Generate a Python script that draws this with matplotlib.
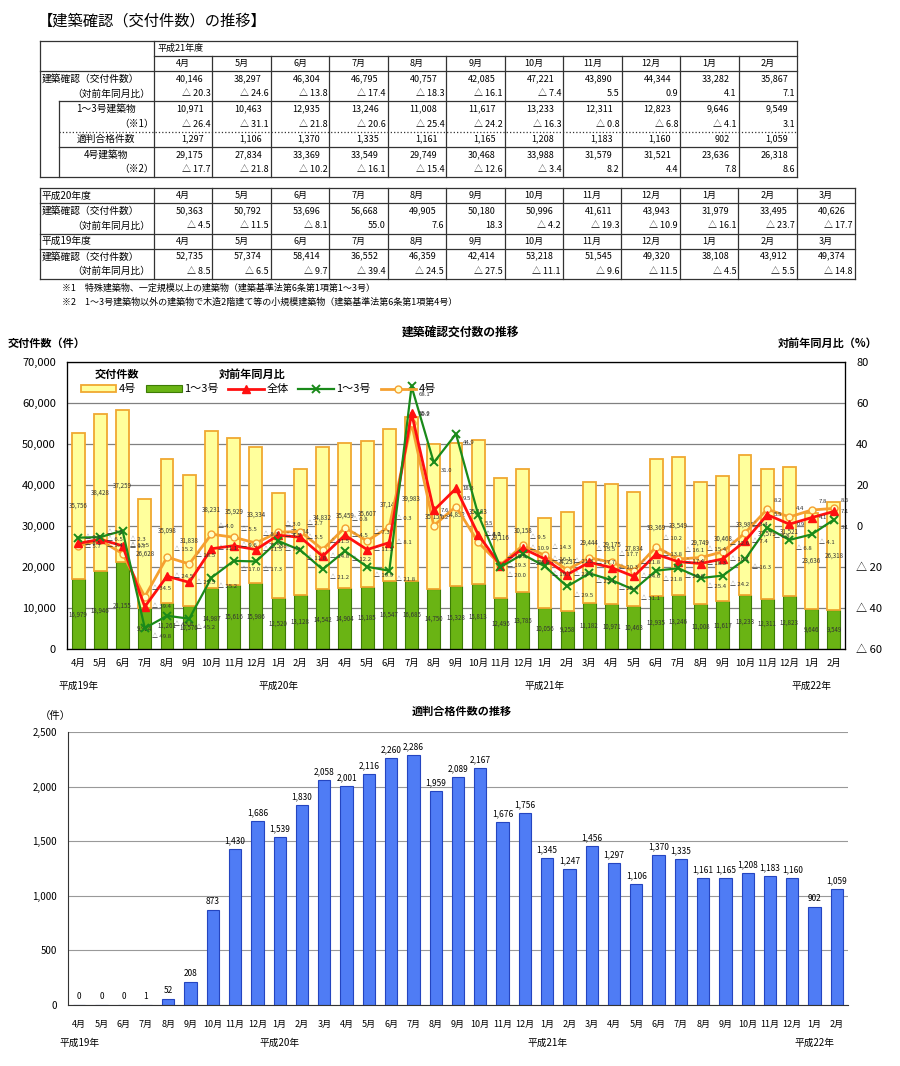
import numpy as np
import matplotlib.pyplot as plt
from matplotlib.patches import Patch
from matplotlib.lines import Line2D
from matplotlib.transforms import blended_transform_factory

plt.rcParams['font.family'] = ['Noto Sans CJK JP', 'DejaVu Sans']

# ---- データ ----
months_fy = ['4月', '5月', '6月', '7月', '8月', '9月', '10月', '11月', '12月', '1月', '2月', '3月']

# 平成21年度 (4月～2月)
total21 = [40146, 38297, 46304, 46795, 40757, 42085, 47221, 43890, 44344, 33282, 35867]
total21_r = [-20.3, -24.6, -13.8, -17.4, -18.3, -16.1, -7.4, 5.5, 0.9, 4.1, 7.1]
k13_21 = [10971, 10463, 12935, 13246, 11008, 11617, 13233, 12311, 12823, 9646, 9549]
k13_21_r = [-26.4, -31.1, -21.8, -20.6, -25.4, -24.2, -16.3, -0.8, -6.8, -4.1, 3.1]
tekihan21 = [1297, 1106, 1370, 1335, 1161, 1165, 1208, 1183, 1160, 902, 1059]
k4_21 = [29175, 27834, 33369, 33549, 29749, 30468, 33988, 31579, 31521, 23636, 26318]
k4_21_r = [-17.7, -21.8, -10.2, -16.1, -15.4, -12.6, -3.4, 8.2, 4.4, 7.8, 8.6]

# 平成20年度
total20 = [50363, 50792, 53696, 56668, 49905, 50180, 50996, 41611, 43943, 31979, 33495, 40626]
total20_r = [-4.5, -11.5, -8.1, 55.0, 7.6, 18.3, -4.2, -19.3, -10.9, -16.1, -23.7, -17.7]
k13_20 = [14904, 15185, 16547, 16685, 14750, 15328, 15813, 12495, 13785, 10056, 9258, 11182]
k13_20_r = [-12.2, -19.9, -21.8, 68.1, 31.0, 44.9, 5.5, -20.0, -13.8, -19.7, -29.5, -23.1]
k4_20 = [35459, 35607, 37149, 39983, 35155, 34852, 35183, 29116, 30158, 21923, 24237, 29444]
k4_20_r = [-0.8, -7.3, -0.3, 50.2, 0.2, 9.5, -8.0, -19.0, -9.5, -14.3, -21.3, -15.5]
tekihan20 = [2001, 2116, 2260, 2286, 1959, 2089, 2167, 1676, 1756, 1345, 1247, 1456]

# 平成19年度
total19 = [52735, 57374, 58414, 36552, 46359, 42414, 53218, 51545, 49320, 38108, 43912, 49374]
total19_r = [-8.5, -6.5, -9.7, -39.4, -24.5, -27.5, -11.1, -9.6, -11.5, -4.5, -5.5, -14.8]
k13_19 = [16979, 18946, 21155, 9924, 11261, 10576, 14987, 15616, 15986, 12520, 13128, 14542]
k13_19_r = [-5.7, -5.4, -2.3, -49.8, -43.8, -45.2, -25.2, -17.0, -17.3, -7.3, -11.8, -21.2]
k4_19 = [35756, 38428, 37259, 26628, 35098, 31838, 38231, 35929, 33334, 25588, 30784, 34832]
k4_19_r = [-9.8, -7.0, -13.5, -34.5, -15.2, -18.5, -4.0, -5.5, -8.3, -3.0, -2.7, -11.5]
tekihan19 = [0, 0, 0, 1, 52, 208, 873, 1430, 1686, 1539, 1830, 2058]

year_labels = ['平成19年', '平成20年', '平成21年', '平成22年']
year_idx = [0, 9, 21, 33]

notes = ['※1　特殊建築物、一定規模以上の建築物（建築基準法第6条第1項第1～3号）',
         '※2　1～3号建築物以外の建築物で木造2階建て等の小規模建築物（建築基準法第6条第1項第4号）']


def pct(v):
    return f'△ {abs(v):.1f}' if v < 0 else f'{v:.1f}'


def num(v):
    return f'{v:,}'


W, H = 900, 1066
fig = plt.figure(figsize=(9, 10.66), dpi=100)

# 表と見出し用の背景 (ピクセル座標)
bg = fig.add_axes([0, 0, 1, 1])
bg.set_xlim(0, W)
bg.set_ylim(H, 0)
bg.axis('off')


def line(x1, x2, y1, y2, ls='-'):
    bg.plot([x1, x2], [y1, y2], color='#333333', lw=0.9, ls=ls)


fs_t = 6.5
bg.text(38, 21, '【建築確認（交付件数）の推移】', fontsize=11, va='center', ha='left')

# ---- 表1 平成21年度 ----
L, XL, R1 = 40, 154, 797
cw1 = (R1 - XL) / len(total21)
ys = np.linspace(41, 177, 10)
for yy in (ys[0], ys[2], ys[9]):
    line(L, R1, yy, yy)
line(XL, R1, ys[1], ys[1])
line(59, R1, ys[4], ys[4])
line(59, R1, ys[6], ys[6], ls=':')
line(59, R1, ys[7], ys[7])
line(L, L, ys[0], ys[9])
line(59, 59, ys[4], ys[9])
line(XL, XL, ys[0], ys[9])
line(R1, R1, ys[0], ys[9])
for k in range(1, len(total21)):
    line(XL + k * cw1, XL + k * cw1, ys[1], ys[9])


def mid(arr, i):
    return (arr[i] + arr[i + 1]) / 2


bg.text(XL + 3, mid(ys, 0), '平成21年度', fontsize=fs_t, va='center')
for k, m in enumerate(months_fy[:len(total21)]):
    bg.text(XL + (k + 0.5) * cw1, mid(ys, 1), m, fontsize=fs_t, ha='center', va='center')
rows1 = [(2, total21, num), (3, total21_r, pct), (4, k13_21, num), (5, k13_21_r, pct),
         (6, tekihan21, num), (7, k4_21, num), (8, k4_21_r, pct)]
for r, vals, f in rows1:
    pad = 9 if f is num else 2
    for k, v in enumerate(vals):
        bg.text(XL + (k + 1) * cw1 - pad, mid(ys, r), f(v), fontsize=fs_t, ha='right', va='center')
bg.text(42, mid(ys, 2), '建築確認（交付件数）', fontsize=7, va='center')
bg.text(150, mid(ys, 3), '（対前年同月比）', fontsize=7, va='center', ha='right')
bg.text(106, mid(ys, 4), '1～3号建築物', fontsize=7, va='center', ha='center')
bg.text(137, mid(ys, 5), '（※1）', fontsize=7, va='center', ha='center')
bg.text(106, mid(ys, 6), '適判合格件数', fontsize=7, va='center', ha='center')
bg.text(106, mid(ys, 7), '4号建築物', fontsize=7, va='center', ha='center')
bg.text(137, mid(ys, 8), '（※2）', fontsize=7, va='center', ha='center')

# ---- 表2 平成20年度・平成19年度 ----
R2 = 855
cw2 = (R2 - XL) / 12
ys2 = np.linspace(188, 279, 7)
for i in (0, 1, 3, 4, 6):
    line(L, R2, ys2[i], ys2[i])
for xx in [L, XL, R2] + [XL + k * cw2 for k in range(1, 12)]:
    line(xx, xx, ys2[0], ys2[6])
for base, name, tot, rat in [(0, '平成20年度', total20, total20_r), (3, '平成19年度', total19, total19_r)]:
    bg.text(42, mid(ys2, base), name, fontsize=7, va='center')
    bg.text(42, mid(ys2, base + 1), '建築確認（交付件数）', fontsize=7, va='center')
    bg.text(150, mid(ys2, base + 2), '（対前年同月比）', fontsize=7, va='center', ha='right')
    for k in range(12):
        bg.text(XL + (k + 0.5) * cw2, mid(ys2, base), months_fy[k], fontsize=fs_t, ha='center', va='center')
        bg.text(XL + (k + 1) * cw2 - 9, mid(ys2, base + 1), num(tot[k]), fontsize=fs_t, ha='right', va='center')
        bg.text(XL + (k + 1) * cw2 - 2, mid(ys2, base + 2), pct(rat[k]), fontsize=fs_t, ha='right', va='center')
for i, t in enumerate(notes):
    bg.text(62, 288 + 14 * i, t, fontsize=6.5, va='center')

# ---- 建築確認交付数の推移 ----
k13 = k13_19 + k13_20 + k13_21
k4 = k4_19 + k4_20 + k4_21
r_all = total19_r + total20_r + total21_r
r13 = k13_19_r + k13_20_r + k13_21_r
r4 = k4_19_r + k4_20_r + k4_21_r
months = months_fy + months_fy + months_fy[:len(total21)]
x = np.arange(len(k13))

ax = fig.add_axes([67 / W, 1 - 649 / H, 778 / W, 287 / H])
ax.bar(x, k13, width=0.58, color='#6ab414', edgecolor='#3d7c05', lw=0.8, zorder=2)
ax.bar(x, k4, bottom=k13, width=0.58, color='#ffff9c', edgecolor='#f0a830', lw=1.3, zorder=2)
for i in x:
    ax.text(i, k13[i] / 2, num(k13[i]), fontsize=4.4, ha='center', va='center', color='#333333', zorder=5)
    ax.text(i, k13[i] + k4[i] / 2, num(k4[i]), fontsize=4.4, ha='center', va='center', color='#333333', zorder=5)
ax.set_xlim(-0.5, len(x) - 0.5)
ax.set_ylim(0, 70000)
ax.set_yticks(np.arange(0, 70001, 10000))
ax.set_yticklabels([num(v) for v in range(0, 70001, 10000)], fontsize=8)
ax.set_xticks(x)
ax.set_xticklabels(months, fontsize=6.8)
ax.tick_params(length=0, pad=7)
ax.tick_params(axis='y', pad=8)
ax.grid(axis='y', color='#808080', lw=0.9)
ax.set_axisbelow(True)
for s in ax.spines.values():
    s.set_color('#222222')
    s.set_linewidth(0.9)

ax2 = ax.twinx()
ax2.set_ylim(-60, 80)
ax2.set_yticks(np.arange(-60, 81, 20))
ax2.set_yticklabels([f'△ {abs(v)}' if v < 0 else str(v) for v in range(-60, 81, 20)], fontsize=8)
ax2.tick_params(length=0, pad=8)
ax2.plot(x, r4, color='#f5a030', lw=2, marker='o', ms=5, mfc='#ffffc8', mec='#f5a030', zorder=3)
ax2.plot(x, r_all, color='#ff1010', lw=2, marker='^', ms=6, mec='#ff1010', zorder=4)
ax2.plot(x, r13, color='#1a8a1a', lw=1.6, marker='x', ms=6, mew=1.4, zorder=5)
# 折れ線のラベル: 4号は上、全体は右、1～3号は下にずらす
for vals, dy in ((r4, 6), (r_all, 0), (r13, -6)):
    for i in x:
        ax2.annotate(pct(vals[i]), (i, vals[i]), xytext=(5, dy), textcoords='offset points',
                     fontsize=4.3, ha='left', va='center', color='#333333', zorder=6)

handles = [Patch(facecolor='#ffff9c', edgecolor='#f0a830', lw=1.3),
           Patch(facecolor='#6ab414', edgecolor='#3d7c05', lw=0.8),
           Line2D([], [], color='#ff1010', lw=2, marker='^', ms=6),
           Line2D([], [], color='#1a8a1a', lw=1.6, marker='x', ms=6, mew=1.4),
           Line2D([], [], color='#f5a030', lw=2, marker='o', ms=5, mfc='#ffffc8')]
ax2.legend(handles, ['4号', '1～3号', '全体', '1～3号', '4号'], ncol=5, loc='center left',
           bbox_to_anchor=(0.005, 0.905), frameon=False, fontsize=8, handlelength=3.2,
           handleheight=0.6, columnspacing=0.9, handletextpad=0.2)
ax.text(0.035, 0.955, '交付件数', transform=ax.transAxes, fontsize=8, fontweight='bold', va='center')
ax.text(0.195, 0.955, '対前年同月比', transform=ax.transAxes, fontsize=8, fontweight='bold', va='center')

tr = blended_transform_factory(ax.transData, ax.transAxes)
for lab, i in zip(year_labels, year_idx):
    ax.text(i, -0.13, lab, transform=tr, fontsize=7, ha='center', va='center')

bg.text(460, 333, '建築確認交付数の推移', fontsize=8.5, fontweight='bold', ha='center', va='center')
bg.text(8, 343, '交付件数（件）', fontsize=8, fontweight='bold', va='center')
bg.text(778, 343, '対前年同月比（%）', fontsize=8, fontweight='bold', va='center')

# ---- 適判合格件数の推移 ----
tekihan = tekihan19 + tekihan20 + tekihan21
ax3 = fig.add_axes([68 / W, 1 - 1005 / H, 780 / W, 273 / H])
ax3.bar(x, tekihan, width=0.55, color='#4f7cf5', edgecolor='#2445c0', lw=0.8, zorder=2)
for i in x:
    ax3.text(i, tekihan[i] + 35, num(tekihan[i]), fontsize=6, ha='center', va='bottom')
ax3.set_xlim(-0.5, len(x) - 0.5)
ax3.set_ylim(0, 2500)
ax3.set_yticks(np.arange(0, 2501, 500))
ax3.set_yticklabels([num(v) for v in range(0, 2501, 500)], fontsize=7)
ax3.set_xticks(x)
ax3.set_xticklabels(months, fontsize=6.5)
ax3.tick_params(length=0, pad=11)
ax3.tick_params(axis='y', pad=8)
ax3.grid(axis='y', color='#999999', lw=0.8)
ax3.set_axisbelow(True)
for side in ('top', 'right'):
    ax3.spines[side].set_visible(False)
for side in ('left', 'bottom'):
    ax3.spines[side].set_color('#333333')
tr3 = blended_transform_factory(ax3.transData, ax3.transAxes)
for lab, i in zip(year_labels, year_idx):
    ax3.text(i, -0.14, lab, transform=tr3, fontsize=7, ha='center', va='center')

bg.text(462, 711, '適判合格件数の推移', fontsize=8, fontweight='bold', ha='center', va='center')
bg.text(40, 716, '（件）', fontsize=7.5, va='center')

fig.savefig('out.png', dpi=100)
